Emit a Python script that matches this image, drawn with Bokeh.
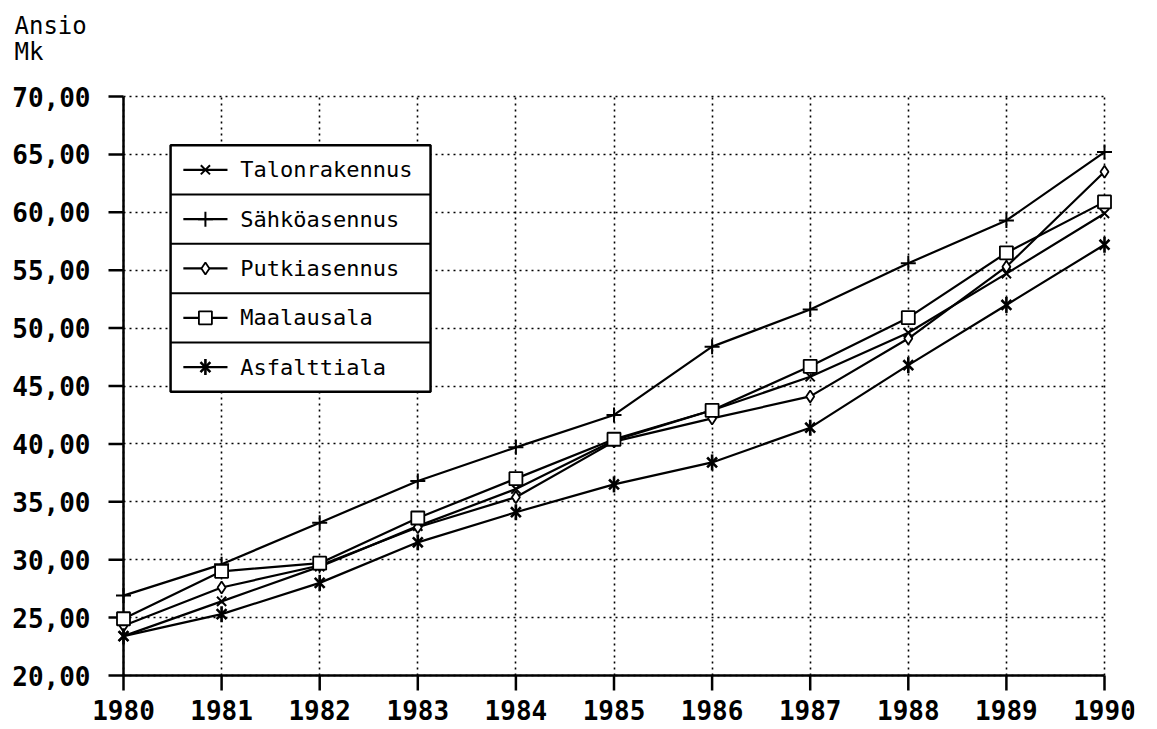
import math
from bokeh.plotting import figure
from bokeh.models import Range1d, FixedTicker, Grid
from bokeh.core.properties import value
from bokeh.embed import file_html
from bokeh.resources import INLINE

# ---------------- data ----------------
years = [1980, 1981, 1982, 1983, 1984, 1985, 1986, 1987, 1988, 1989, 1990]
x_tick_labels = [str(y) for y in years]

series_names = ["Talonrakennus", "Sähköasennus", "Putkiasennus", "Maalausala", "Asfalttiala"]
talonrakennus = [23.4, 26.4, 29.4, 32.9, 36.1, 40.3, 42.9, 45.8, 49.6, 54.7, 59.9]
sahkoasennus = [26.9, 29.6, 33.2, 36.8, 39.7, 42.5, 48.4, 51.6, 55.6, 59.3, 65.2]
putkiasennus = [24.3, 27.6, 29.5, 32.8, 35.4, 40.2, 42.2, 44.1, 49.1, 55.3, 63.5]
maalausala = [24.9, 29.0, 29.7, 33.6, 37.0, 40.4, 42.9, 46.7, 50.9, 56.5, 60.9]
asfalttiala = [23.4, 25.3, 28.0, 31.5, 34.1, 36.5, 38.4, 41.4, 46.8, 52.0, 57.2]

y_ticks = [20, 25, 30, 35, 40, 45, 50, 55, 60, 65, 70]
y_tick_labels = ["20,00", "25,00", "30,00", "35,00", "40,00", "45,00",
                 "50,00", "55,00", "60,00", "65,00", "70,00"]

y_title_lines = ["Ansio", "Mk"]

# ---------------- layout (pixel geometry of the page) ----------------
FONT = "DejaVu Sans Mono"
PX_X, PX_Y = 98.1, 11.58          # pixels per year / per mark
AX_LEFT_PX, AX_TOP_PX = 123, 96   # where 1980 and 70 sit on the page
AX_BOTTOM_PX = AX_TOP_PX + (y_ticks[-1] - y_ticks[0]) * PX_Y
PAGE_H = 728
X0 = years[0] - AX_LEFT_PX / PX_X
X1 = years[-1] + 30 / PX_X
Y0 = y_ticks[0] - (PAGE_H - AX_BOTTOM_PX) / PX_Y
Y1 = y_ticks[-1] + AX_TOP_PX / PX_Y
FW = int(round((X1 - X0) * PX_X))
FH = int(round((Y1 - Y0) * PX_Y))
TICK_PX = 15


def dx(px):
    return px / PX_X


def dy(px):
    return px / PX_Y


p = figure(frame_width=FW, frame_height=FH,
           min_border_left=0, min_border_right=20, min_border_top=0, min_border_bottom=0,
           x_range=Range1d(X0, X1), y_range=Range1d(Y0, Y1),
           x_axis_location=None, y_axis_location=None,
           output_backend="svg", toolbar_location=None,
           background_fill_color="white", border_fill_color="white")
p.outline_line_color = None

# dotted grid, limited to the 1980-1990 x 20-70 area
if len(p.xgrid) == 0:
    p.add_layout(Grid(dimension=0), "center")
if len(p.ygrid) == 0:
    p.add_layout(Grid(dimension=1), "center")
p.xgrid.ticker = FixedTicker(ticks=years)
p.ygrid.ticker = FixedTicker(ticks=y_ticks)
for g in p.grid:
    g.grid_line_color = "black"
    g.grid_line_dash = "2 4"
    g.grid_line_width = 1.6
p.xgrid.bounds = (years[0], years[-1])
p.xgrid.cross_bounds = (y_ticks[0], y_ticks[-1])
p.ygrid.bounds = (y_ticks[0], y_ticks[-1])
p.ygrid.cross_bounds = (years[0], years[-1])

AX_LW = 2.5
# y axis: line, ticks and labels at x = 1980
p.segment(x0=[years[0]], x1=[years[0]], y0=[y_ticks[0]], y1=[y_ticks[-1]],
          line_color="black", line_width=AX_LW)
p.segment(x0=[years[0] - dx(TICK_PX)] * len(y_ticks), x1=[years[0]] * len(y_ticks),
          y0=y_ticks, y1=y_ticks, line_color="black", line_width=AX_LW)
p.text(x=[years[0] - dx(33)] * len(y_ticks), y=y_ticks, text=y_tick_labels,
       text_align="right", text_baseline="middle", text_font=value(FONT),
       text_font_style="bold", text_font_size="26px", text_color="black")

# x axis: line, ticks and labels at y = 20
p.segment(x0=[years[0]], x1=[years[-1]], y0=[y_ticks[0]], y1=[y_ticks[0]],
          line_color="black", line_width=AX_LW)
p.segment(x0=years, x1=years, y0=[y_ticks[0]] * len(years),
          y1=[y_ticks[0] - dy(TICK_PX)] * len(years), line_color="black", line_width=AX_LW)
p.text(x=years, y=[y_ticks[0] - dy(24)] * len(years), text=x_tick_labels,
       text_align="center", text_baseline="top", text_font=value(FONT),
       text_font_style="bold", text_font_size="26px", text_color="black")

# y axis title in the top-left corner
p.text(x=[years[0] - dx(AX_LEFT_PX - 14)] * 2,
       y=[y_ticks[-1] + dy(AX_TOP_PX - 25), y_ticks[-1] + dy(AX_TOP_PX - 51)],
       text=y_title_lines, text_align="left", text_baseline="alphabetic",
       text_font=value(FONT), text_font_size="24px", text_color="black")

# series
all_series = [talonrakennus, sahkoasennus, putkiasennus, maalausala, asfalttiala]
LW = 2.2
for vals in all_series:
    p.line(years, vals, line_color="black", line_width=LW)


def draw_marker(idx, xs, ys):
    if idx == 0:
        p.scatter(xs, ys, marker="x", size=13, line_color="black", line_width=2)
    elif idx == 1:
        p.scatter(xs, ys, marker="cross", size=15, line_color="black", line_width=2)
    elif idx == 2:
        p.scatter(xs, ys, marker="diamond", size=12, line_color="black",
                  fill_color="white", line_width=1.8)
    elif idx == 3:
        p.scatter(xs, ys, marker="square", size=13, line_color="black",
                  fill_color="white", line_width=1.8)
    else:
        p.scatter(xs, ys, marker="x", size=14, line_color="black", line_width=2.6)
        p.scatter(xs, ys, marker="dash", angle=math.pi / 2, size=16,
                  line_color="black", line_width=2.6)


for i, vals in enumerate(all_series):
    draw_marker(i, years, vals)

# legend (boxed, one row per series)
leg_left, leg_right = 1980.48, 1983.13
leg_top, row_h = 65.8, 4.26
n = len(series_names)
p.quad(left=leg_left, right=leg_right, top=leg_top, bottom=leg_top - n * row_h,
       fill_color="white", line_color="black", line_width=2.5)
sep_y = [leg_top - row_h * (i + 1) for i in range(n - 1)]
p.segment(x0=[leg_left] * len(sep_y), x1=[leg_right] * len(sep_y), y0=sep_y, y1=sep_y,
          line_color="black", line_width=2)
centers = [leg_top - row_h * (i + 0.5) for i in range(n)]
p.segment(x0=[1980.61] * n, x1=[1981.06] * n, y0=centers, y1=centers,
          line_color="black", line_width=LW)
for i in range(n):
    draw_marker(i, [1980.835], [centers[i]])
p.text(x=[1981.19] * n, y=centers, text=series_names, text_baseline="middle",
       text_align="left", text_font=value(FONT), text_font_size="22px", text_color="black")

open("out.html", "w").write(file_html(p, INLINE))
